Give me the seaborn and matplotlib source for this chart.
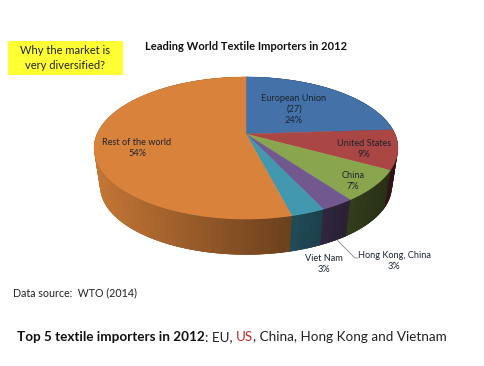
"""
Leading world textile importers in 2012, drawn as a tilted 3D pie on a slide.
"""

import numpy as np
import matplotlib
matplotlib.use('Agg')
import matplotlib.pyplot as plt
import seaborn as sns

# Data, clockwise from 12 o'clock
labels = ['European Union\n(27)\n24%', 'United States\n9%', 'China\n7%',
          'Hong Kong, China\n3%', 'Viet Nam\n3%', 'Rest of the world\n54%']
shares = [24, 9, 7, 3, 3, 54]
colors = ['#4471A8', '#AA4644', '#89A54E', '#71588F', '#4198AF', '#D9823B']

title = 'Leading World Textile Importers in 2012'
question = 'Why the market is\nvery diversified?'
source = 'Data source:  WTO (2014)'
footer_parts = [('Top 5 textile importers in 2012', 'bold', '#111111'),
                (': EU, ', 'normal', '#222222'),
                ('US', 'normal', '#C0272D'),
                (', China, Hong Kong and Vietnam', 'normal', '#222222')]

# Pie geometry in slide pixels
CX, CY = 246, 134
RX, RY = 149, 68.3
TILT = 0.197
DEPTH = 39
BOTTOM_SCALE = 0.96
INK = '#1c2430'


def project(theta, scale=1.0, dy=0.0):
    """Perspective projection of a point on the pie rim, theta clockwise from top."""
    x = np.sin(theta)
    d = -np.cos(theta)
    w = 1 - TILT * d
    return CX + scale * RX * x / w, CY + dy + scale * RY * d / w


def draw_pie(ax):
    edges = np.radians(np.cumsum([0] + shares) * 3.6)
    step = np.radians(1.0)

    # side wall first, split in thin strips to get the light falloff.
    # each strip runs on under the next one so no seams show through
    for i, color in enumerate(colors):
        thetas = np.append(np.arange(edges[i], edges[i + 1], step), edges[i + 1])
        rgb = np.array(matplotlib.colors.to_rgb(color))
        for a, b in zip(thetas[:-1], thetas[1:]):
            over = b + 2 * step
            xt0, yt0 = project(a)
            xt1, yt1 = project(over)
            xb0, yb0 = project(a, BOTTOM_SCALE, DEPTH)
            xb1, yb1 = project(over, BOTTOM_SCALE, DEPTH)
            xm = project((a + b) / 2)[0]
            t = (xm - (CX - RX)) / (2 * RX)
            shade = rgb * np.clip(0.9 - 0.62 * t, 0.25, 1)
            ax.fill([xt0, xt1, xb1, xb0], [yt0, yt1, yb1, yb0],
                    facecolor=shade, edgecolor='none', zorder=1)

    # top surface
    for i, color in enumerate(colors):
        thetas = np.linspace(edges[i], edges[i + 1], 120)
        xs, ys = project(thetas)
        ax.fill(np.r_[CX, xs], np.r_[CY, ys], color=color, lw=0.3, zorder=2)


def draw_labels(ax):
    spots = [(294, 109.5), (364, 149), (353, 181), (394, 261), (324, 264), (137, 148)]
    for label, (x, y) in zip(labels, spots):
        ax.text(x, y, label, ha='center', va='center', fontsize=6.6, color=INK,
                linespacing=1.35, zorder=3)
    # leader line for Hong Kong
    ax.plot([337, 355, 358], [240, 258, 258], color='#8a8a8a', lw=0.6, zorder=3)


def draw_slide_text(fig, ax):
    ax.add_patch(plt.Rectangle((8, 41), 115, 34, facecolor='#FFFF33',
                               edgecolor='none', zorder=1))
    ax.text(65.5, 58, question, ha='center', va='center', fontsize=8.0,
            color='#222222', linespacing=1.45, zorder=3)
    ax.text(246.5, 46, title, ha='center', va='center', fontsize=8.0,
            fontweight='bold', color='#111111')
    ax.text(13, 293, source, ha='left', va='center', fontsize=7.7, color='#222222')

    # footer is one line with mixed weights and colours
    renderer = fig.canvas.get_renderer()
    inv = ax.transData.inverted()
    x = 17
    for part, weight, color in footer_parts:
        txt = ax.text(x, 337, part, ha='left', va='center', fontsize=9.7,
                      fontweight=weight, color=color)
        box = txt.get_window_extent(renderer)
        x = inv.transform((box.x1, box.y0))[0]


def main():
    sns.set_theme(style='white')
    plt.rcParams['font.family'] = ['Lato', 'DejaVu Sans']

    fig = plt.figure(figsize=(4.85, 3.66), dpi=100)
    ax = fig.add_axes([0, 0, 1, 1])
    ax.set_xlim(0, 485)
    ax.set_ylim(366, 0)
    ax.axis('off')

    draw_pie(ax)
    draw_labels(ax)
    draw_slide_text(fig, ax)

    fig.savefig('out.png', dpi=100, facecolor='white')
    plt.close(fig)


if __name__ == "__main__":
    main()
